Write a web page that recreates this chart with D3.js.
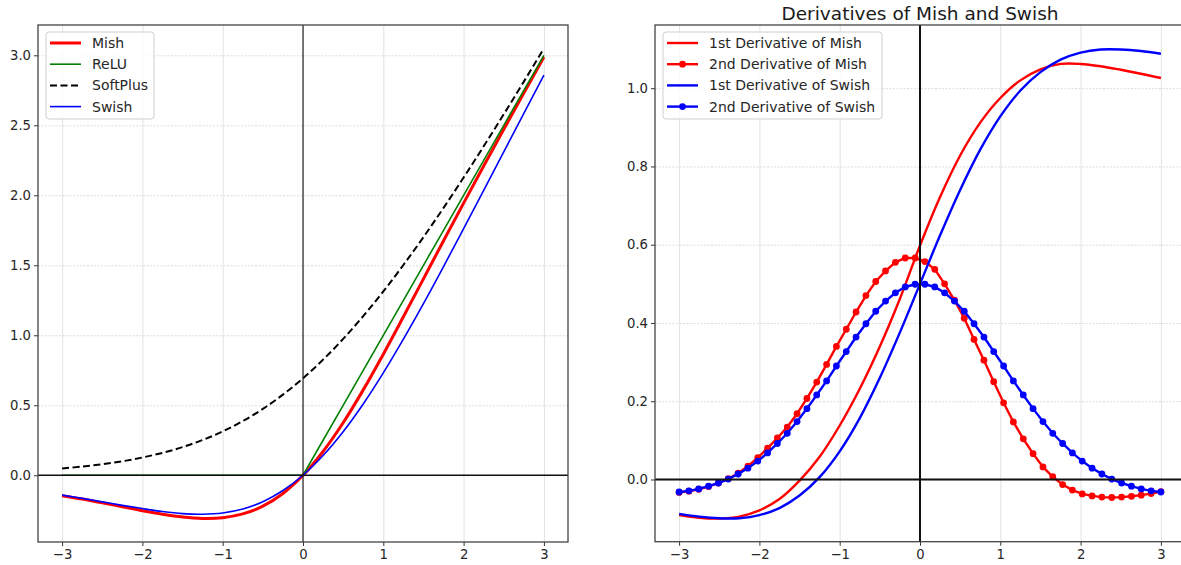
<!DOCTYPE html>
<html>
<head>
<meta charset="utf-8">
<script src="https://cdn.jsdelivr.net/npm/d3@7"></script>
<style>
  body { margin: 0; background: #fff; }
  svg { display: block; font-family: "DejaVu Sans", sans-serif; }
</style>
</head>
<body>
<script>
const width = 1181,
  height = 565;

// x grid for the smooth curves
const xs = [-3, -2.75, -2.5, -2.25, -2, -1.75, -1.5, -1.25, -1, -0.75, -0.5, -0.25, 0,
  0.25, 0.5, 0.75, 1, 1.25, 1.5, 1.75, 2, 2.25, 2.5, 2.75, 3];

// left panel: activation functions
const mish = [-0.146, -0.170, -0.197, -0.225, -0.253, -0.278, -0.298, -0.308, -0.303, -0.276, -0.221, -0.130, 0,
  0.170, 0.375, 0.610, 0.865, 1.132, 1.403, 1.675, 1.944, 2.209, 2.471, 2.730, 2.987];
const relu = [0, 0, 0, 0, 0, 0, 0, 0, 0, 0, 0, 0, 0,
  0.25, 0.5, 0.75, 1, 1.25, 1.5, 1.75, 2, 2.25, 2.5, 2.75, 3];
const softplus = [0.049, 0.062, 0.079, 0.100, 0.127, 0.160, 0.201, 0.252, 0.313, 0.387, 0.474, 0.576, 0.693,
  0.826, 0.974, 1.137, 1.313, 1.502, 1.701, 1.910, 2.127, 2.350, 2.579, 2.812, 3.049];
const swish = [-0.142, -0.165, -0.190, -0.215, -0.238, -0.259, -0.274, -0.278, -0.269, -0.241, -0.189, -0.109, 0,
  0.141, 0.311, 0.509, 0.731, 0.972, 1.226, 1.491, 1.762, 2.035, 2.310, 2.585, 2.858];

// right panel: first derivatives (same x grid)
const mishD1 = [-0.091, -0.098, -0.100, -0.095, -0.079, -0.050, -0.003, 0.058, 0.138, 0.232, 0.340, 0.462, 0.598,
  0.722, 0.828, 0.912, 0.975, 1.020, 1.048, 1.062, 1.062, 1.056, 1.047, 1.037, 1.026];
const swishD1 = [-0.088, -0.095, -0.099, -0.099, -0.091, -0.073, -0.041, 0.006, 0.072, 0.157, 0.260, 0.376, 0.5,
  0.624, 0.740, 0.843, 0.928, 0.994, 1.041, 1.073, 1.091, 1.099, 1.099, 1.095, 1.088];

// second derivatives, sampled on 50 points
const xDots = [-3, -2.878, -2.755, -2.633, -2.510, -2.388, -2.265, -2.143, -2.020, -1.898,
  -1.776, -1.653, -1.531, -1.408, -1.286, -1.163, -1.041, -0.918, -0.796, -0.673,
  -0.551, -0.429, -0.306, -0.184, -0.061, 0.061, 0.184, 0.306, 0.429, 0.551,
  0.673, 0.796, 0.918, 1.041, 1.163, 1.286, 1.408, 1.531, 1.653, 1.776,
  1.898, 2.020, 2.143, 2.265, 2.388, 2.510, 2.633, 2.755, 2.878, 3];
const mishD2 = [-0.033, -0.030, -0.025, -0.018, -0.009, 0.002, 0.016, 0.034, 0.056, 0.080,
  0.106, 0.134, 0.168, 0.207, 0.249, 0.294, 0.340, 0.384, 0.428, 0.470,
  0.506, 0.533, 0.555, 0.566, 0.566, 0.557, 0.537, 0.500, 0.458, 0.412,
  0.358, 0.305, 0.250, 0.196, 0.147, 0.104, 0.066, 0.032, 0.007, -0.013,
  -0.027, -0.037, -0.042, -0.045, -0.046, -0.045, -0.043, -0.040, -0.036, -0.031];
const swishD2 = [-0.032, -0.029, -0.024, -0.017, -0.009, 0.001, 0.014, 0.029, 0.047, 0.068,
  0.092, 0.118, 0.148, 0.181, 0.216, 0.252, 0.290, 0.327, 0.364, 0.398,
  0.430, 0.456, 0.477, 0.492, 0.499, 0.499, 0.492, 0.477, 0.456, 0.430,
  0.398, 0.364, 0.327, 0.290, 0.252, 0.216, 0.181, 0.148, 0.118, 0.092,
  0.068, 0.047, 0.029, 0.014, 0.001, -0.009, -0.017, -0.024, -0.029, -0.032];

const xTicks = [-3, -2, -1, 0, 1, 2, 3];
const yTicksLeft = [0, 0.5, 1, 1.5, 2, 2.5, 3];
const yTicksRight = [0, 0.2, 0.4, 0.6, 0.8, 1];

const svg = d3.select("body").append("svg")
  .attr("width", width)
  .attr("height", height);

function panel(box, xDomain, yDomain, yTicks) {
  const x = d3.scaleLinear().domain(xDomain).range([box.left, box.right]);
  const y = d3.scaleLinear().domain(yDomain).range([box.bottom, box.top]);
  const g = svg.append("g");
  const clipId = "clip" + Math.round(box.left);
  svg.append("clipPath").attr("id", clipId)
    .append("rect")
    .attr("x", box.left).attr("y", box.top)
    .attr("width", box.right - box.left).attr("height", box.bottom - box.top);

  // grid
  g.append("g")
    .attr("transform", `translate(0,${box.bottom})`)
    .call(d3.axisBottom(x).tickValues(xTicks).tickSize(-(box.bottom - box.top)).tickFormat(""))
    .call(s => s.select(".domain").remove())
    .call(s => s.selectAll("line").attr("stroke", "#e2e2e2").attr("stroke-width", 1));
  g.append("g")
    .attr("transform", `translate(${box.left},0)`)
    .call(d3.axisLeft(y).tickValues(yTicks).tickSize(-(box.right - box.left)).tickFormat(""))
    .call(s => s.select(".domain").remove())
    .call(s => s.selectAll("line").attr("stroke", "#dcdcdc").attr("stroke-width", 1).attr("stroke-dasharray", "2,1.5"));

  const plot = g.append("g").attr("clip-path", `url(#${clipId})`);
  return { x, y, g, plot, box };
}

function axes(p, zeroWidth, vWidth) {
  const { x, y, g, box } = p;
  g.append("line")
    .attr("x1", box.left).attr("x2", box.right)
    .attr("y1", y(0)).attr("y2", y(0))
    .attr("stroke", "#111").attr("stroke-width", zeroWidth);
  g.append("line")
    .attr("x1", x(0)).attr("x2", x(0))
    .attr("y1", box.top).attr("y2", box.bottom)
    .attr("stroke", "#111").attr("stroke-width", vWidth);
}

function frame(p, yTicks) {
  const { x, y, g, box } = p;
  const xa = g.append("g")
    .attr("transform", `translate(0,${box.bottom})`)
    .call(d3.axisBottom(x).tickValues(xTicks).tickSize(4).tickPadding(4).tickFormat(d3.format("d")));
  const ya = g.append("g")
    .attr("transform", `translate(${box.left},0)`)
    .call(d3.axisLeft(y).tickValues(yTicks).tickSize(4).tickPadding(3).tickFormat(d3.format(".1f")));
  [xa, ya].forEach(a => {
    a.select(".domain").remove();
    a.selectAll("line").attr("stroke", "#333").attr("stroke-width", 1);
    a.selectAll("text").attr("font-family", "DejaVu Sans").attr("font-size", 13.2).attr("fill", "#262626");
  });
  g.append("rect")
    .attr("x", box.left).attr("y", box.top)
    .attr("width", box.right - box.left).attr("height", box.bottom - box.top)
    .attr("fill", "none").attr("stroke", "#444").attr("stroke-width", 1.3);
}

function curve(p, xv, yv, color, w, dash) {
  const line = d3.line()
    .x((d, i) => p.x(xv[i]))
    .y(d => p.y(d))
    .curve(d3.curveCatmullRom.alpha(0.5));
  p.plot.append("path")
    .datum(yv)
    .attr("d", line)
    .attr("fill", "none")
    .attr("stroke", color)
    .attr("stroke-width", w)
    .attr("stroke-dasharray", dash || null)
    .attr("stroke-linejoin", "round");
}

function dots(p, xv, yv, color) {
  const line = d3.line().x((d, i) => p.x(xv[i])).y(d => p.y(d));
  p.plot.append("path").datum(yv).attr("d", line)
    .attr("fill", "none").attr("stroke", color).attr("stroke-width", 2.4);
  p.plot.append("g").selectAll("circle").data(yv).join("circle")
    .attr("cx", (d, i) => p.x(xv[i]))
    .attr("cy", d => p.y(d))
    .attr("r", 3.4)
    .attr("fill", color);
}

function legend(x0, y0, w, h, items) {
  const lg = svg.append("g");
  lg.append("rect")
    .attr("x", x0).attr("y", y0).attr("width", w).attr("height", h)
    .attr("rx", 3)
    .attr("fill", "#fff").attr("fill-opacity", 0.8)
    .attr("stroke", "#d0d0d0").attr("stroke-width", 1);
  items.forEach((it, i) => {
    const cy = y0 + 11 + i * 21.2;
    lg.append("line")
      .attr("x1", x0 + 4).attr("x2", x0 + 35)
      .attr("y1", cy).attr("y2", cy)
      .attr("stroke", it.color).attr("stroke-width", it.width)
      .attr("stroke-dasharray", it.dash || null);
    if (it.marker) {
      lg.append("circle").attr("cx", x0 + 19.5).attr("cy", cy).attr("r", 3.4).attr("fill", it.color);
    }
    lg.append("text")
      .attr("x", x0 + 46).attr("y", cy + 5)
      .attr("font-size", 14).attr("fill", "#262626")
      .text(it.label);
  });
}

// ---- left panel
const left = panel({ left: 38, right: 568, top: 25, bottom: 542 }, [-3.3, 3.3], [-0.4767, 3.2165], yTicksLeft);
axes(left, 1.6, 1.1);
curve(left, xs, mish, "#ff0000", 3);
left.plot.append("path")
  .datum(relu)
  .attr("d", d3.line().x((d, i) => left.x(xs[i])).y(d => left.y(d)))
  .attr("fill", "none").attr("stroke", "#008000").attr("stroke-width", 1.6);
curve(left, xs, softplus, "#000", 2, "7,3.5");
curve(left, xs, swish, "#0000ff", 1.6);
frame(left, yTicksLeft);
legend(46, 32, 108, 87, [
  { label: "Mish", color: "#ff0000", width: 3 },
  { label: "ReLU", color: "#008000", width: 1.6 },
  { label: "SoftPlus", color: "#000", width: 2, dash: "7,3.5" },
  { label: "Swish", color: "#0000ff", width: 1.6 }
]);

// ---- right panel
const right = panel({ left: 655, right: 1185, top: 25, bottom: 541.7 }, [-3.3, 3.3], [-0.159, 1.1615], yTicksRight);
axes(right, 2, 2);
curve(right, xs, mishD1, "#ff0000", 2.4);
dots(right, xDots, mishD2, "#ff0000");
curve(right, xs, swishD1, "#0000ff", 2.4);
dots(right, xDots, swishD2, "#0000ff");
frame(right, yTicksRight);
legend(663, 32, 219, 87, [
  { label: "1st Derivative of Mish", color: "#ff0000", width: 2.4 },
  { label: "2nd Derivative of Mish", color: "#ff0000", width: 2.4, marker: true },
  { label: "1st Derivative of Swish", color: "#0000ff", width: 2.4 },
  { label: "2nd Derivative of Swish", color: "#0000ff", width: 2.4, marker: true }
]);

svg.append("text")
  .attr("x", 920).attr("y", 20)
  .attr("text-anchor", "middle")
  .attr("font-size", 18.5)
  .attr("fill", "#1a1a1a")
  .text("Derivatives of Mish and Swish");
</script>
</body>
</html>
